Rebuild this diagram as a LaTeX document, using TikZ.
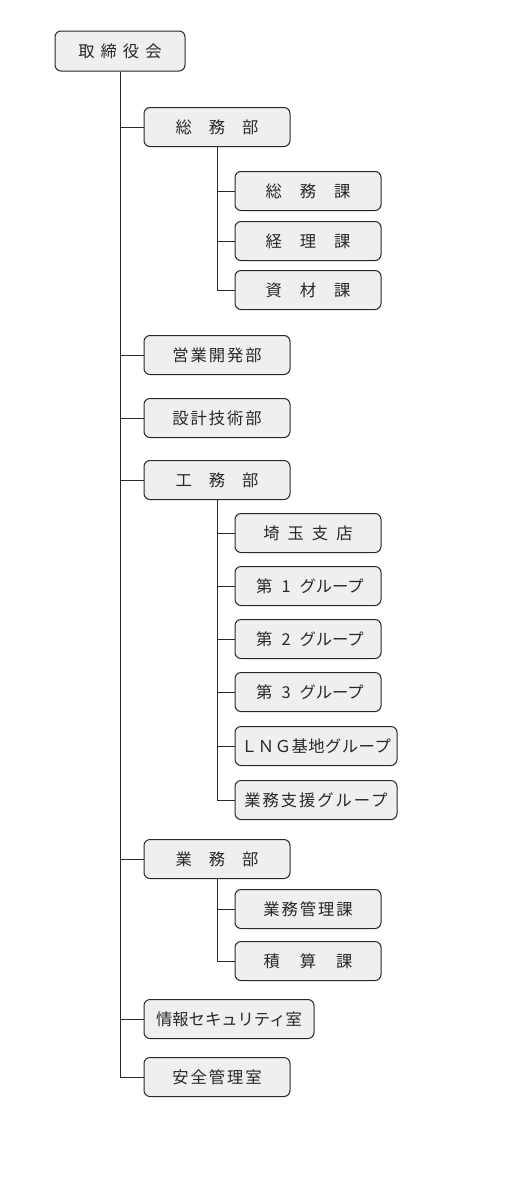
\documentclass[tikz,border=0pt]{standalone}
\usepackage{fontspec}
\newfontfamily\jp{Noto Sans CJK JP}
\newfontfamily\jpa[LetterSpace=3]{Noto Sans CJK JP}
\newfontfamily\jpb[LetterSpace=12]{Noto Sans CJK JP}
\newcommand\kk[1]{\hspace{#1pt}}
\definecolor{boxfill}{RGB}{239,239,239}
\definecolor{ink}{RGB}{40,40,40}
\begin{document}
\begin{tikzpicture}[x=1pt,y=-1pt,
  box/.style={draw=ink,fill=boxfill,rounded corners=6pt,line width=1pt,
    minimum width=146pt,minimum height=39pt,inner sep=0pt,anchor=center,
    text=ink,font=\jp\fontsize{16.3}{16}\selectfont},
  wide/.style={box,minimum width=162pt},
  conn/.style={draw=ink,line width=1pt}]
\useasboundingbox (0,0) rectangle (527,1194);
\fill[white] (0,0) rectangle (527,1194);
% top
\node[box,minimum width=130pt,minimum height=40pt] (top) at (120,51) {取\kk{6}締\kk{6}役\kk{6}会};
% level 1
\node[box] (soumu) at (217,127) {総\kk{17}務\kk{17}部};
\node[box] (eigyo) at (217,355) {営\kk{2}業\kk{2}開\kk{2}発\kk{2}部};
\node[box] (sekkei) at (217,418) {設\kk{2}計\kk{2}技\kk{2}術\kk{2}部};
\node[box] (koumu) at (217,480) {工\kk{17}務\kk{17}部};
\node[box] (gyomu) at (217,859) {業\kk{17}務\kk{17}部};
\node[box,minimum width=170pt] (joho) at (229,1019) {情報セキュリティ室};
\node[box] (anzen) at (217,1077) {安\kk{2}全\kk{2}管\kk{2}理\kk{2}室};
% under soumu
\node[box] (s1) at (308,191) {総\kk{18}務\kk{18}課};
\node[box] (s2) at (308,241) {経\kk{18}理\kk{18}課};
\node[box] (s3) at (308,290) {資\kk{18}材\kk{18}課};
% under koumu
\node[box] (k1) at (308,533) {埼\kk{8}玉\kk{8}支\kk{8}店};
\node[box] (k2) at (308,586) {\kk{4}第\kk{9}1\kk{9}グループ};
\node[box] (k3) at (308,639) {\kk{4}第\kk{9}2\kk{9}グループ};
\node[box] (k4) at (308,692) {\kk{4}第\kk{9}3\kk{9}グループ};
\node[wide,font=\jpa\fontsize{16.3}{16}\selectfont] (k5) at (316,746) {ＬＮＧ基地グループ};
\node[wide,font=\jpb\fontsize{16.3}{16}\selectfont] (k6) at (316,800) {業務支援グループ};
% under gyomu
\node[box] (g1) at (308,909) {業\kk{2}務\kk{2}管\kk{2}理\kk{2}課};
\node[box] (g2) at (308,961) {積\kk{20}算\kk{20}課};
% connectors
\foreach \n in {soumu,eigyo,sekkei,koumu,gyomu,joho,anzen}
  \draw[conn] (top.south) |- (\n.west);
\foreach \n in {s1,s2,s3}
  \draw[conn] (soumu.south) |- (\n.west);
\foreach \n in {k1,k2,k3,k4,k5,k6}
  \draw[conn] (koumu.south) |- (\n.west);
\foreach \n in {g1,g2}
  \draw[conn] (gyomu.south) |- (\n.west);
\end{tikzpicture}
\end{document}
